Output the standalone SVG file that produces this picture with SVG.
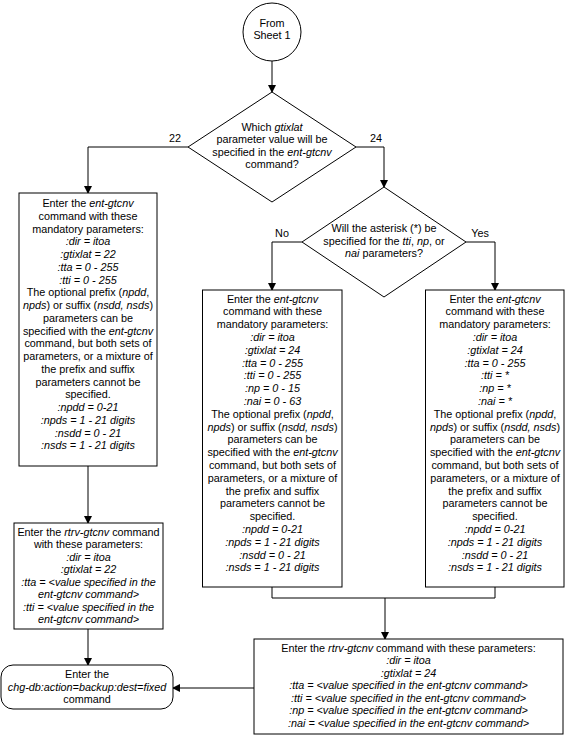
<svg xmlns="http://www.w3.org/2000/svg" width="565" height="737" viewBox="0 0 565 737">
<style>
text{font-family:"Liberation Sans",Arial,sans-serif;font-size:10.8px;fill:#000;text-anchor:middle}
.i{font-style:italic}
.box{fill:#fff;stroke:#000;stroke-width:1}
.ln{fill:none;stroke:#000;stroke-width:1}
</style>
<defs>
<marker id="ah" markerWidth="8" markerHeight="8" refX="7" refY="4" orient="auto" markerUnits="userSpaceOnUse">
<path d="M0,0 L8,4 L0,8 Z" fill="#000"/>
</marker>
</defs>
<rect width="565" height="737" fill="#fff"/>
<g id="connectors">
<path class="ln" d="M272,61 V92" marker-end="url(#ah)"/>
<path class="ln" d="M188,147 H88 V193" marker-end="url(#ah)"/>
<path class="ln" d="M356,147 H384 V187" marker-end="url(#ah)"/>
<path class="ln" d="M302,242 H272 V290" marker-end="url(#ah)"/>
<path class="ln" d="M466,242 H495 V290" marker-end="url(#ah)"/>
<path class="ln" d="M88,466 V523" marker-end="url(#ah)"/>
<path class="ln" d="M272,587 V598 H495 V587"/>
<path class="ln" d="M385,598 V639" marker-end="url(#ah)"/>
<path class="ln" d="M88,629 V665" marker-end="url(#ah)"/>
<path class="ln" d="M254,688 H173" marker-end="url(#ah)"/>
<text x="175" y="142">22</text>
<text x="376" y="142">24</text>
<text x="282" y="237">No</text>
<text x="480" y="237">Yes</text>
</g>
<g id="start">
<circle cx="272" cy="32" r="29" class="box"/>
<text x="272" y="26.5">From</text>
<text x="272" y="39">Sheet 1</text>
</g>
<g id="decision1">
<polygon class="box" points="272,92 356,147 272,202 188,147"/>
<text x="272" y="130.5">Which <tspan class="i">gtixlat</tspan></text>
<text x="272" y="143">parameter value will be</text>
<text x="272" y="155.5">specified in the <tspan class="i">ent-gtcnv</tspan></text>
<text x="272" y="168">command?</text>
</g>
<g id="decision2">
<polygon class="box" points="384,187 466,242 384,297 302,242"/>
<text x="384" y="232">Will the asterisk (*) be</text>
<text x="384" y="244.5">specified for the <tspan class="i">tti</tspan>, <tspan class="i">np</tspan>, or</text>
<text x="384" y="257"><tspan class="i">nai</tspan> parameters?</text>
</g>
<g id="entLeft">
<rect class="box" x="19" y="193" width="138" height="273"/>
<text x="88" y="207">Enter the <tspan class="i">ent-gtcnv</tspan></text>
<text x="88" y="219.75">command with these</text>
<text x="88" y="232.5">mandatory parameters:</text>
<text x="88" y="245.25" class="i">:dir = itoa</text>
<text x="88" y="258" class="i">:gtixlat = 22</text>
<text x="88" y="270.75" class="i">:tta = 0 - 255</text>
<text x="88" y="283.5" class="i">:tti = 0 - 255</text>
<text x="88" y="296.25">The optional prefix (<tspan class="i">npdd</tspan>,</text>
<text x="88" y="309"><tspan class="i">npds</tspan>) or suffix (<tspan class="i">nsdd, nsds</tspan>)</text>
<text x="88" y="321.75">parameters can be</text>
<text x="88" y="334.5">specified with the <tspan class="i">ent-gtcnv</tspan></text>
<text x="88" y="347.25">command, but both sets of</text>
<text x="88" y="360">parameters, or a mixture of</text>
<text x="88" y="372.75">the prefix and suffix</text>
<text x="88" y="385.5">parameters cannot be</text>
<text x="88" y="398.25">specified.</text>
<text x="88" y="411" class="i">:npdd = 0-21</text>
<text x="88" y="423.75" class="i">:npds = 1 - 21 digits</text>
<text x="88" y="436.5" class="i">:nsdd = 0 - 21</text>
<text x="88" y="449.25" class="i">:nsds = 1 - 21 digits</text>
</g>
<g id="entMiddle">
<rect class="box" x="202.5" y="290" width="139.5" height="297"/>
<text x="272.5" y="302.5">Enter the <tspan class="i">ent-gtcnv</tspan></text>
<text x="272.5" y="315.3">command with these</text>
<text x="272.5" y="328.1">mandatory parameters:</text>
<text x="272.5" y="340.9" class="i">:dir = itoa</text>
<text x="272.5" y="353.7" class="i">:gtixlat = 24</text>
<text x="272.5" y="366.5" class="i">:tta = 0 - 255</text>
<text x="272.5" y="379.3" class="i">:tti = 0 - 255</text>
<text x="272.5" y="392.1" class="i">:np = 0 - 15</text>
<text x="272.5" y="404.9" class="i">:nai = 0 - 63</text>
<text x="272.5" y="417.7">The optional prefix (<tspan class="i">npdd</tspan>,</text>
<text x="272.5" y="430.5"><tspan class="i">npds</tspan>) or suffix (<tspan class="i">nsdd, nsds</tspan>)</text>
<text x="272.5" y="443.3">parameters can be</text>
<text x="272.5" y="456.1">specified with the <tspan class="i">ent-gtcnv</tspan></text>
<text x="272.5" y="468.9">command, but both sets of</text>
<text x="272.5" y="481.7">parameters, or a mixture of</text>
<text x="272.5" y="494.5">the prefix and suffix</text>
<text x="272.5" y="507.3">parameters cannot be</text>
<text x="272.5" y="520.1">specified.</text>
<text x="272.5" y="532.9" class="i">:npdd = 0-21</text>
<text x="272.5" y="545.7" class="i">:npds = 1 - 21 digits</text>
<text x="272.5" y="558.5" class="i">:nsdd = 0 - 21</text>
<text x="272.5" y="571.3" class="i">:nsds = 1 - 21 digits</text>
</g>
<g id="entRight">
<rect class="box" x="425.5" y="290" width="138.5" height="297"/>
<text x="495" y="302.5">Enter the <tspan class="i">ent-gtcnv</tspan></text>
<text x="495" y="315.3">command with these</text>
<text x="495" y="328.1">mandatory parameters:</text>
<text x="495" y="340.9" class="i">:dir = itoa</text>
<text x="495" y="353.7" class="i">:gtixlat = 24</text>
<text x="495" y="366.5" class="i">:tta = 0 - 255</text>
<text x="495" y="379.3" class="i">:tti = *</text>
<text x="495" y="392.1" class="i">:np = *</text>
<text x="495" y="404.9" class="i">:nai = *</text>
<text x="495" y="417.7">The optional prefix (<tspan class="i">npdd</tspan>,</text>
<text x="495" y="430.5"><tspan class="i">npds</tspan>) or suffix (<tspan class="i">nsdd, nsds</tspan>)</text>
<text x="495" y="443.3">parameters can be</text>
<text x="495" y="456.1">specified with the <tspan class="i">ent-gtcnv</tspan></text>
<text x="495" y="468.9">command, but both sets of</text>
<text x="495" y="481.7">parameters, or a mixture of</text>
<text x="495" y="494.5">the prefix and suffix</text>
<text x="495" y="507.3">parameters cannot be</text>
<text x="495" y="520.1">specified.</text>
<text x="495" y="532.9" class="i">:npdd = 0-21</text>
<text x="495" y="545.7" class="i">:npds = 1 - 21 digits</text>
<text x="495" y="558.5" class="i">:nsdd = 0 - 21</text>
<text x="495" y="571.3" class="i">:nsds = 1 - 21 digits</text>
</g>
<g id="rtrvLeft">
<rect class="box" x="14" y="523" width="149" height="106"/>
<text x="88.5" y="535.5">Enter the <tspan class="i">rtrv-gtcnv</tspan> command</text>
<text x="88.5" y="548">with these parameters:</text>
<text x="88.5" y="560.5" class="i">:dir = itoa</text>
<text x="88.5" y="573" class="i">:gtixlat = 22</text>
<text x="88.5" y="585.5" class="i">:tta = &lt;value specified in the</text>
<text x="88.5" y="598" class="i">ent-gtcnv command&gt;</text>
<text x="88.5" y="610.5" class="i">:tti = &lt;value specified in the</text>
<text x="88.5" y="623" class="i">ent-gtcnv command&gt;</text>
</g>
<g id="rtrvRight">
<rect class="box" x="254" y="639" width="309" height="95"/>
<text x="408.5" y="651.5">Enter the <tspan class="i">rtrv-gtcnv</tspan> command with these parameters:</text>
<text x="408.5" y="664" class="i">:dir = itoa</text>
<text x="408.5" y="676.5" class="i">:gtixlat = 24</text>
<text x="408.5" y="689" class="i">:tta = &lt;value specified in the ent-gtcnv command&gt;</text>
<text x="408.5" y="701.5" class="i">:tti = &lt;value specified in the ent-gtcnv command&gt;</text>
<text x="408.5" y="714" class="i">:np = &lt;value specified in the ent-gtcnv command&gt;</text>
<text x="408.5" y="726.5" class="i">:nai = &lt;value specified in the ent-gtcnv command&gt;</text>
</g>
<g id="backup">
<rect class="box" x="1" y="665" width="172" height="44" rx="12" ry="12"/>
<text x="87" y="678">Enter the</text>
<text x="87" y="690.5" class="i">chg-db:action=backup:dest=fixed</text>
<text x="87" y="703">command</text>
</g>
</svg>
